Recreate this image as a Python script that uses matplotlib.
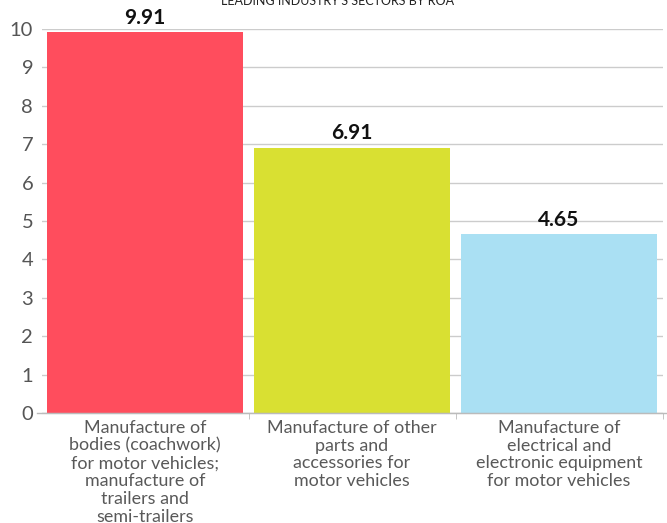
import numpy as np
import matplotlib
matplotlib.use("Agg")
import matplotlib.pyplot as plt

plt.rcParams['font.family'] = ['Lato', 'DejaVu Sans']

# Datos
categories = [
    "Manufacture of\nbodies (coachwork)\nfor motor vehicles;\nmanufacture of\ntrailers and\nsemi-trailers",
    "Manufacture of other\nparts and\naccessories for\nmotor vehicles",
    "Manufacture of\nelectrical and\nelectronic equipment\nfor motor vehicles",
]
roa = [9.91, 6.91, 4.65]
bar_colors = ["#FF4D5D", "#D9E032", "#AAE0F3"]
title = "LEADING INDUSTRY'S SECTORS BY ROA"

fig = plt.figure(figsize=(6.67, 5.23), dpi=100)
ax = fig.add_axes([41.5 / 667, 1 - 413 / 523, 621 / 667, 384 / 523])

x = np.arange(len(roa))
bars = ax.bar(x, roa, width=0.947, color=bar_colors, zorder=3)

# Etiquetas de valor
for xi, v in zip(x, roa):
    ax.annotate(f"{v:.2f}", (xi, v), xytext=(0, 3.5), textcoords="offset points",
                ha="center", va="bottom", fontsize=15, fontweight="bold",
                color="#111111", zorder=4, clip_on=False)

ax.set_xlim(-0.5, 2.5)
ax.set_ylim(0, 10)
ax.set_yticks(range(0, 11))
ax.yaxis.grid(True, color="#CCCCCC", linewidth=1, zorder=0)
ax.tick_params(axis="y", length=0, pad=6, labelsize=14.5, labelcolor="#555555")

ax.set_xticks(x)
ax.set_xticklabels(categories, fontsize=12.9, color="#595959", linespacing=1.13)
ax.set_xticks([0.5, 1.5, 2.5], minor=True)
ax.tick_params(axis="x", which="major", length=0, pad=5)
ax.tick_params(axis="x", which="minor", length=4, color="#BBBBBB", direction="out")

for s in ["top", "right", "left"]:
    ax.spines[s].set_visible(False)
ax.spines["bottom"].set_color("#BBBBBB")
ax.spines["bottom"].set_zorder(5)
ax.plot([-0.008, 1.01], [0, 0], transform=ax.transAxes, color="#BBBBBB",
        linewidth=1, clip_on=False, zorder=5)

fig.text(338 / 667, 1 - 5 / 523, title, ha="center", va="baseline",
         fontsize=9, color="#222222")

fig.savefig("out.png", dpi=100)
